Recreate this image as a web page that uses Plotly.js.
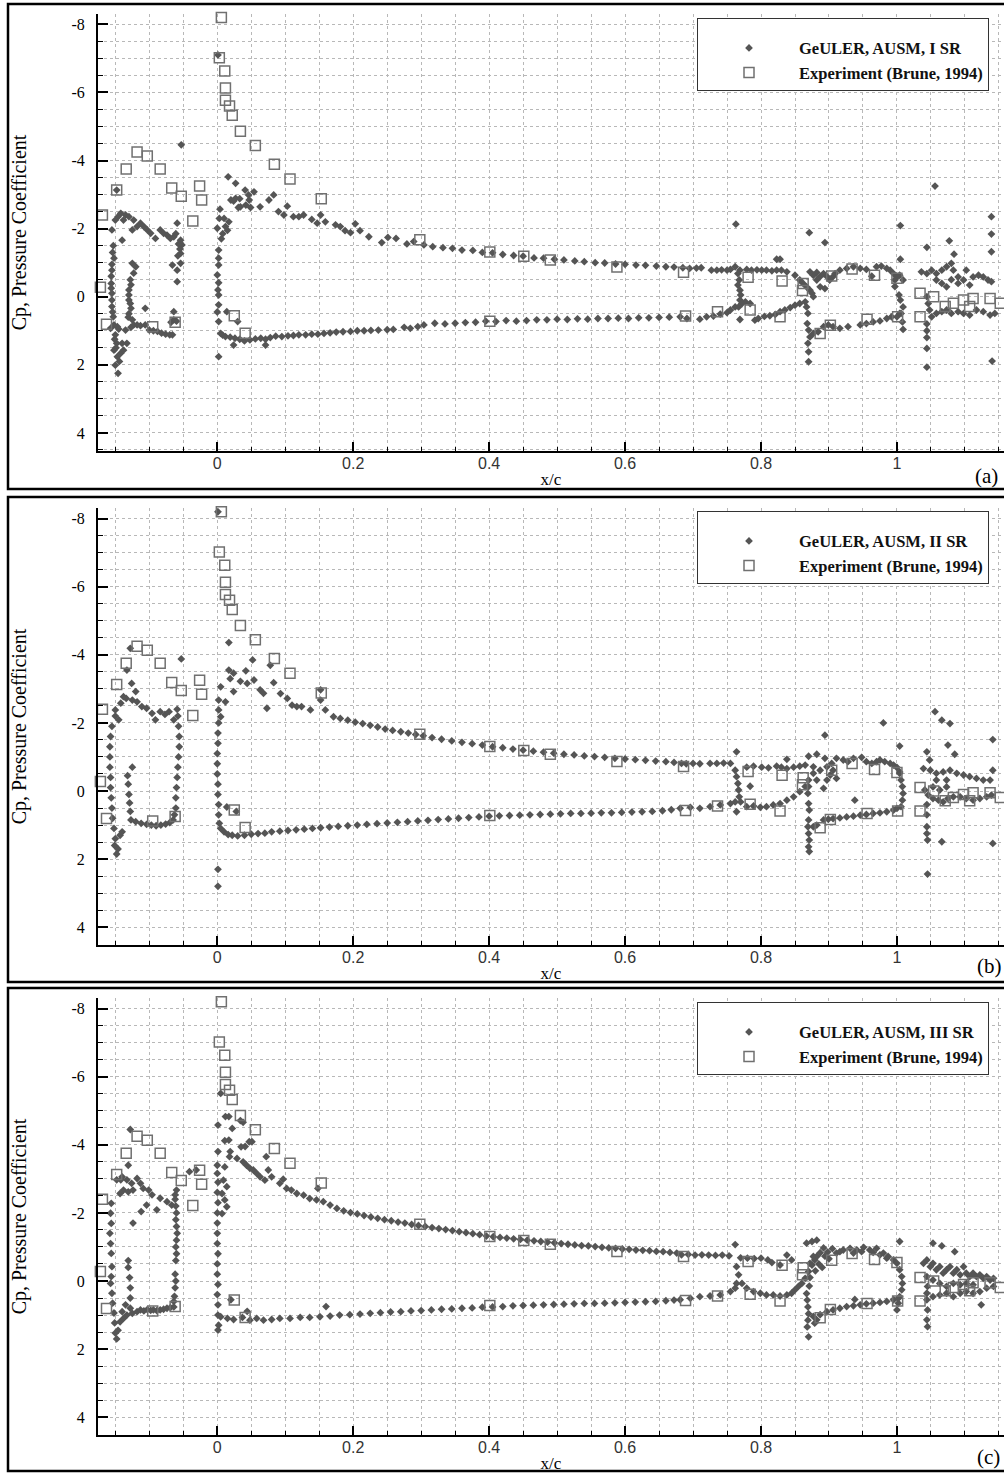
<!DOCTYPE html>
<html>
<head>
<meta charset="utf-8">
<script src="https://cdn.plot.ly/plotly-3.0.1.min.js"></script>
<style>
  html, body { margin: 0; padding: 0; background: #fff; }
  #chart { width: 1004px; height: 1474px; }
</style>
</head>
<body>
<div id="chart"></div>
<script>
// ---- Data: [x/c, Cp] pairs ----

// Wind-tunnel pressure taps (same in every panel)
const brune = [
  [-0.176,0.98],[-0.172,-0.28],[-0.169,-2.40],[-0.163,0.81],[-0.148,-3.13],[-0.134,-3.75],[-0.118,-4.25],
  [-0.103,-4.13],[-0.095,0.88],[-0.084,-3.75],[-0.067,-3.19],[-0.062,0.75],[-0.053,-2.95],[-0.036,-2.22],
  [-0.026,-3.25],[-0.023,-2.84],
  [0.006,-8.20],[0.003,-7.02],[0.011,-6.63],[0.012,-6.13],[0.012,-5.77],[0.018,-5.60],[0.022,-5.33],
  [0.034,-4.86],[0.056,-4.44],[0.084,-3.89],[0.107,-3.46],[0.153,-2.88],[0.298,-1.67],[0.401,-1.31],
  [0.451,-1.19],[0.490,-1.08],[0.588,-0.87],[0.686,-0.72],
  [0.025,0.56],[0.041,1.07],[0.401,0.72],[0.689,0.57],[0.736,0.44],
  [0.781,-0.57],[0.831,-0.46],[0.862,-0.39],[0.861,-0.18],[0.784,0.39],[0.828,0.59],
  [0.904,-0.61],[0.934,-0.81],[0.967,-0.63],[1.000,-0.54],[0.887,1.08],[0.902,0.84],[0.956,0.66],[1.001,0.59],
  [1.034,-0.10],[1.034,0.59],[1.054,0.00],[1.071,0.29],[1.083,0.19],[1.098,0.10],[1.107,0.29],
  [1.112,0.05],[1.137,0.05],[1.152,0.19]
];

// GeULER, AUSM, I SR
const geulerI = [
  // slat
  [-0.155,-1.96],[-0.150,-2.25],[-0.146,-2.35],[-0.142,-2.45],[-0.138,-2.25],[-0.135,-2.40],[-0.130,-2.35],
  [-0.125,-1.96],[-0.123,-2.25],[-0.118,-2.06],[-0.113,-2.16],[-0.108,-2.06],[-0.103,-1.96],[-0.098,-1.86],
  [-0.091,-1.71],[-0.084,-1.96],[-0.079,-1.86],[-0.074,-1.81],[-0.069,-1.71],[-0.064,-1.76],[-0.059,-2.16],
  [-0.054,-1.66],[-0.052,-1.52],[-0.140,-1.66],[-0.148,-3.13],[-0.053,-4.46],
  [-0.153,-1.50],[-0.154,-1.30],[-0.152,-1.13],[-0.155,-0.95],[-0.155,-0.78],[-0.156,-0.60],[-0.156,-0.39],
  [-0.156,-0.25],[-0.155,-0.10],[-0.155,0.10],[-0.155,0.29],[-0.154,0.45],[-0.153,0.59],[-0.152,0.83],
  [-0.157,0.93],[-0.147,0.88],[-0.145,0.95],[-0.150,1.12],[-0.151,1.25],[-0.148,1.37],[-0.149,1.50],
  [-0.152,1.57],[-0.147,1.76],[-0.144,1.90],[-0.150,2.01],[-0.146,2.25],[-0.142,1.66],[-0.138,1.57],
  [-0.140,1.37],[-0.133,1.37],[-0.135,0.98],
  [-0.125,-0.98],[-0.120,-0.88],[-0.123,-0.69],[-0.128,-0.50],[-0.127,-0.35],[-0.130,-0.20],[-0.130,-0.05],
  [-0.130,0.10],[-0.128,0.20],[-0.127,0.34],[-0.130,0.50],[-0.131,0.60],[-0.125,0.68],[-0.123,0.83],[-0.127,0.90],
  [-0.118,0.83],[-0.113,0.85],[-0.106,0.83],[-0.106,0.34],[-0.100,0.98],[-0.094,1.00],[-0.088,1.02],
  [-0.082,1.07],[-0.076,1.10],[-0.070,1.12],[-0.066,1.12],[-0.064,0.44],[-0.064,0.68],[-0.068,0.75],[-0.060,0.72],
  [-0.059,-0.44],[-0.059,-0.78],[-0.066,-0.93],[-0.054,-0.98],[-0.058,-1.20],[-0.054,-1.27],[-0.055,-1.40],
  [-0.057,-1.55],[-0.061,-1.85],
  // main element, leading edge
  [0.001,-7.10],[0.004,-2.57],[0.003,-2.30],[0.000,-2.01],[0.012,-2.06],[0.008,-1.85],[0.015,-1.95],
  [0.017,-2.20],[0.010,-2.30],[0.006,-1.70],[0.002,-1.37],[0.002,-1.13],[0.002,-0.93],[0.000,-0.64],
  [0.002,-0.41],[0.001,-0.20],[0.002,-0.05],[0.002,0.24],[0.000,0.45],[0.002,0.73],[0.014,0.44],
  [0.030,0.73],[0.002,1.76],
  // main element, upper surface
  [0.016,-3.52],[0.027,-3.33],[0.041,-3.13],[0.046,-2.99],[0.054,-3.08],[0.020,-2.84],[0.027,-2.89],
  [0.033,-2.88],[0.024,-2.81],[0.047,-2.84],[0.042,-2.69],[0.031,-2.62],[0.034,-2.64],[0.049,-2.62],
  [0.063,-2.64],[0.076,-2.84],[0.083,-2.99],[0.090,-2.50],[0.098,-2.40],[0.103,-2.66],[0.112,-2.35],
  [0.120,-2.35],[0.127,-2.40],[0.139,-2.27],[0.152,-2.40],[0.147,-2.16],[0.159,-2.20],[0.174,-2.11],
  [0.181,-2.06],[0.188,-1.94],[0.196,-1.88],[0.203,-2.14],[0.210,-1.94],[0.223,-1.76],[0.242,-1.59],
  [0.251,-1.74],[0.263,-1.71],[0.279,-1.55],[0.289,-1.62],[0.304,-1.52],[0.317,-1.47],
  [0.332,-1.44],[0.346,-1.42],[0.360,-1.37],[0.376,-1.36],[0.390,-1.30],[0.405,-1.29],[0.420,-1.24],
  [0.436,-1.21],[0.450,-1.19],[0.466,-1.14],[0.480,-1.13],[0.496,-1.10],[0.510,-1.08],[0.526,-1.05],
  [0.540,-1.03],[0.556,-1.00],[0.570,-0.99],[0.586,-0.96],[0.600,-0.95],[0.616,-0.93],[0.630,-0.92],
  [0.646,-0.90],[0.660,-0.88],[0.672,-0.87],
  // main element, lower surface
  [0.005,1.08],[0.008,1.13],[0.012,1.17],[0.019,1.19],[0.024,1.42],[0.026,1.22],[0.033,1.25],[0.040,1.30],
  [0.048,1.27],[0.056,1.24],[0.064,1.22],[0.071,1.42],[0.071,1.25],[0.078,1.20],[0.086,1.16],[0.095,1.17],
  [0.104,1.15],[0.112,1.14],[0.120,1.12],[0.130,1.12],[0.139,1.10],[0.148,1.10],[0.157,1.08],[0.166,1.06],
  [0.175,1.04],[0.185,1.03],[0.196,1.02],[0.206,1.00],[0.216,1.00],[0.226,0.99],[0.237,0.98],[0.250,0.97],
  [0.259,0.96],[0.275,0.90],[0.284,0.93],[0.295,0.88],[0.304,0.83],[0.320,0.78],[0.335,0.80],[0.350,0.78],
  [0.365,0.76],[0.380,0.75],[0.395,0.72],[0.410,0.73],[0.425,0.70],[0.440,0.72],[0.455,0.70],[0.470,0.68],
  [0.485,0.68],[0.500,0.66],[0.515,0.67],[0.530,0.65],[0.545,0.66],[0.560,0.64],[0.575,0.64],[0.590,0.63],
  [0.605,0.64],[0.620,0.62],[0.635,0.62],[0.650,0.61],[0.665,0.60],[0.681,0.59],[0.691,0.64],[0.710,0.66],
  [0.720,0.59],[0.730,0.57],[0.740,0.51],[0.750,0.47],[0.755,0.39],[0.762,0.30],[0.777,0.15],[0.784,0.20],
  [0.769,0.67],[0.791,0.69],[0.796,0.64],
  // trailing part of main element, upper
  [0.685,-0.85],[0.695,-0.83],[0.705,-0.84],[0.712,-0.85],[0.727,-0.78],[0.735,-0.78],[0.742,-0.79],
  [0.750,-0.78],[0.755,-0.80],[0.762,-0.88],[0.769,-0.78],[0.779,-0.80],[0.786,-0.78],[0.794,-0.79],
  [0.801,-0.78],[0.808,-0.78],[0.816,-0.76],[0.823,-0.78],[0.830,-0.78],[0.838,-0.73],[0.850,-0.63],
  [0.823,-1.10],[0.828,-1.10],[0.763,-2.13],
  // first flap element
  [0.766,-0.68],[0.768,-0.49],[0.766,-0.34],[0.769,-0.19],[0.770,-0.05],[0.769,0.10],[0.772,0.20],[0.767,0.30],
  [0.805,0.58],[0.813,0.56],[0.821,0.52],[0.828,0.44],[0.835,0.39],[0.843,0.32],[0.850,0.25],[0.857,0.20],[0.865,0.15],
  [0.867,0.30],[0.869,0.49],[0.868,0.79],[0.870,0.98],[0.872,1.18],[0.869,1.37],[0.870,1.62],[0.870,1.91],
  [0.871,-1.88],[0.894,-1.59],
  [0.857,-0.49],[0.862,-0.39],[0.867,-0.29],[0.872,-0.19],[0.875,-0.10],[0.877,0.00],[0.882,-0.49],
  [0.887,-0.59],[0.892,-0.68],[0.897,-0.59],[0.887,-0.29],[0.894,-0.24],[0.877,-0.63],[0.872,-0.73],
  [0.882,-0.71],[0.901,-0.49],[0.906,-0.59],[0.909,-0.68],
  // second flap element
  [0.916,-0.78],[0.926,-0.83],[0.936,-0.88],[0.946,-0.83],[0.955,-0.80],[0.963,-0.60],[0.970,-0.88],
  [0.977,-0.90],[0.985,-0.83],[0.990,-0.78],[0.995,-0.68],[1.000,-0.58],[1.004,-0.63],[1.009,-0.49],
  [0.997,-0.49],[1.005,-2.09],[1.005,-1.10],
  [0.877,1.08],[0.884,1.03],[0.892,0.88],[0.899,0.83],[0.906,0.88],[0.916,0.93],[0.928,0.88],[0.946,0.83],
  [0.955,0.79],[0.965,0.74],[0.975,0.71],[0.985,0.64],[0.992,0.59],[1.000,0.59],[1.004,0.49],
  [1.003,-0.05],[1.005,0.10],[1.009,0.30],[1.006,0.49],[1.008,0.74],[1.009,0.96],[0.997,-0.30],
  // wake / aft element
  [1.036,-0.73],[1.044,-0.68],[1.051,-0.78],[1.058,-0.68],[1.066,-0.78],[1.073,-0.88],[1.080,-0.98],
  [1.083,-0.78],[1.090,-0.58],[1.098,-0.49],[1.102,-0.78],[1.107,-0.34],[1.112,-0.58],[1.120,-0.63],
  [1.127,-0.58],[1.134,-0.49],[1.139,-0.44],[1.066,-0.39],[1.073,-0.29],[1.058,-0.49],[1.090,-0.39],[1.080,-0.50],
  [1.044,0.00],[1.046,0.20],[1.048,0.39],[1.051,0.59],[1.058,0.49],[1.066,0.44],[1.073,0.39],[1.080,0.49],
  [1.090,0.44],[1.098,0.49],[1.107,0.54],[1.117,0.39],[1.127,0.44],[1.137,0.54],[1.144,0.49],
  [1.044,0.80],[1.044,1.00],[1.044,1.20],
  [1.056,-3.25],[1.139,-2.35],[1.139,-1.84],[1.139,-1.32],[1.077,-1.64],[1.044,-1.45],[1.084,-1.25],
  [1.140,1.89],[1.044,2.07],[1.044,1.52]
];

// GeULER, AUSM, II SR
const geulerII = [
  // slat
  [-0.128,-4.19],[-0.133,-3.55],[-0.126,-3.16],[-0.120,-2.92],[-0.053,-3.88],[-0.150,-2.38],[-0.142,-2.58],
  [-0.138,-2.77],[-0.134,-2.72],[-0.125,-2.67],[-0.118,-2.62],[-0.111,-2.48],[-0.104,-2.43],[-0.096,-2.28],
  [-0.091,-2.09],[-0.084,-2.33],[-0.077,-2.25],[-0.071,-2.33],[-0.064,-2.09],[-0.059,-2.40],[-0.145,-2.09],[-0.150,-2.20],
  [-0.155,-1.90],[-0.157,-1.60],[-0.158,-1.30],[-0.158,-1.00],[-0.158,-0.70],[-0.157,-0.40],[-0.157,-0.10],
  [-0.156,0.20],[-0.155,0.50],[-0.154,0.80],[-0.152,1.10],[-0.150,1.40],[-0.151,1.60],[-0.148,1.85],
  [-0.146,1.70],[-0.143,1.30],[-0.140,1.20],
  [-0.125,-0.70],[-0.132,-0.45],[-0.131,-0.20],[-0.130,0.10],[-0.129,0.35],[-0.128,0.60],[-0.127,0.85],
  [-0.120,0.90],[-0.112,0.95],[-0.104,0.98],[-0.097,1.00],[-0.090,1.02],[-0.083,1.00],[-0.076,0.97],
  [-0.070,0.93],[-0.065,0.85],
  [-0.058,-2.20],[-0.057,-1.90],[-0.056,-1.60],[-0.056,-1.30],[-0.057,-1.00],[-0.058,-0.70],[-0.059,-0.40],
  [-0.060,-0.10],[-0.061,0.20],[-0.061,0.50],[-0.063,0.70],
  // main element, leading edge
  [0.001,-8.20],[0.017,-4.36],[0.017,-3.55],[0.024,-3.46],[0.052,-3.85],[0.042,-3.53],[0.078,-3.69],
  [0.083,-3.18],[0.019,-3.30],[0.005,-3.06],[0.002,-2.67],[0.012,-2.62],[0.024,-2.92],[0.073,-2.43],
  [0.034,-3.22],[0.044,-3.16],[0.054,-3.26],[0.063,-2.97],[0.068,-2.87],[0.093,-2.86],[0.103,-2.72],
  [0.110,-2.52],[0.117,-2.48],[0.124,-2.48],[0.137,-2.38],[0.152,-2.97],[0.152,-2.67],[0.159,-2.38],
  [0.171,-2.18],[0.181,-2.13],[0.002,-2.38],[0.005,-2.18],
  [0.002,-2.00],[0.001,-1.70],[0.001,-1.40],[0.000,-1.10],[0.000,-0.80],[0.000,-0.50],[0.001,-0.20],
  [0.001,0.10],[0.002,0.40],[0.002,0.70],[0.003,0.95],[0.001,2.30],[0.001,2.80],[0.014,0.47],[0.028,0.60],
  // main element, upper surface
  [0.192,-2.08],[0.203,-2.02],[0.214,-1.98],[0.225,-1.93],[0.236,-1.88],[0.247,-1.82],[0.258,-1.78],
  [0.270,-1.74],[0.281,-1.70],[0.292,-1.66],[0.303,-1.62],[0.316,-1.57],[0.330,-1.52],[0.345,-1.47],
  [0.360,-1.43],[0.375,-1.39],[0.390,-1.35],[0.405,-1.30],[0.420,-1.27],[0.435,-1.23],[0.450,-1.20],
  [0.465,-1.17],[0.480,-1.14],[0.495,-1.11],[0.510,-1.08],[0.525,-1.06],[0.540,-1.03],[0.555,-1.01],
  [0.570,-0.99],[0.585,-0.96],[0.600,-0.94],[0.615,-0.92],[0.630,-0.90],[0.645,-0.88],[0.660,-0.86],[0.672,-0.84],
  // main element, lower surface
  [0.005,1.10],[0.010,1.20],[0.016,1.28],[0.022,1.30],[0.030,1.32],[0.040,1.30],[0.050,1.27],[0.060,1.25],
  [0.070,1.24],[0.080,1.20],[0.092,1.18],[0.104,1.16],[0.116,1.14],[0.128,1.12],[0.140,1.10],[0.152,1.08],
  [0.165,1.06],[0.178,1.04],[0.192,1.02],[0.206,1.00],[0.220,0.98],[0.235,0.96],[0.250,0.94],[0.265,0.92],
  [0.280,0.90],[0.295,0.88],[0.310,0.86],[0.325,0.84],[0.340,0.82],[0.355,0.80],[0.370,0.78],[0.385,0.76],
  [0.400,0.74],[0.415,0.73],[0.430,0.72],[0.445,0.71],[0.460,0.70],[0.475,0.69],[0.490,0.68],[0.505,0.67],
  [0.520,0.66],[0.535,0.66],[0.550,0.65],[0.565,0.64],[0.580,0.64],[0.595,0.63],[0.610,0.62],[0.625,0.61],
  [0.640,0.60],[0.655,0.58],[0.668,0.55],
  // trailing part of main element
  [0.683,-0.81],[0.690,-0.80],[0.700,-0.81],[0.710,-0.80],[0.725,-0.81],[0.735,-0.81],[0.745,-0.82],[0.755,-0.81],
  [0.764,-1.15],
  [0.681,0.51],[0.696,0.48],[0.710,0.51],[0.725,0.46],[0.740,0.41],[0.755,0.37],[0.762,0.32],[0.764,0.61],
  // first flap element (closed loop)
  [0.779,-0.70],[0.789,-0.73],[0.801,-0.70],[0.811,-0.68],[0.823,-0.73],[0.830,-0.70],[0.838,-0.66],
  [0.838,-0.93],[0.848,-0.70],[0.857,-0.73],[0.865,-0.76],
  [0.762,-0.61],[0.764,-0.42],[0.766,-0.22],[0.767,-0.03],[0.768,0.17],[0.770,0.32],
  [0.779,0.46],[0.789,0.44],[0.799,0.48],[0.808,0.46],[0.818,0.41],[0.828,0.37],[0.838,0.27],[0.848,0.17],
  [0.857,0.02],[0.865,-0.13],[0.784,-0.14],
  [0.870,-0.32],[0.870,-0.13],[0.869,0.07],[0.870,0.37],[0.871,0.56],[0.870,0.85],[0.869,1.05],[0.870,1.25],
  [0.871,1.44],[0.870,1.64],[0.871,1.78],
  [0.870,-1.02],[0.882,-1.08],[0.894,-1.64],[0.894,-0.96],[0.877,-0.71],[0.887,-0.61],[0.897,-0.71],
  [0.904,-0.81],[0.911,-0.96],[0.902,-0.47],[0.892,-0.08],[0.897,-0.32],[0.911,-0.37],[0.906,-0.61],
  [0.882,-0.32],[0.877,-0.52],
  // second flap element (closed loop)
  [0.921,-0.91],[0.928,-0.86],[0.936,-0.96],[0.948,-0.99],[0.955,-0.86],[0.963,-0.81],[0.970,-0.86],
  [0.975,-0.91],[0.982,-0.86],[0.990,-0.81],[0.995,-0.76],[1.000,-0.69],[1.004,-0.56],
  [1.004,-0.52],[1.006,-0.32],[1.008,-0.13],[1.009,0.07],[1.008,0.27],[1.006,0.46],
  [0.877,1.05],[0.882,1.00],[0.892,0.85],[0.899,0.83],[0.906,0.81],[0.916,0.79],[0.926,0.76],[0.936,0.74],
  [0.946,0.71],[0.955,0.69],[0.965,0.66],[0.975,0.64],[0.985,0.61],[0.995,0.56],[1.000,0.51],[0.938,0.27],
  [0.980,-2.00],[1.004,-1.32],
  // wake / aft element
  [1.056,-2.33],[1.066,-2.08],[1.078,-1.98],[1.075,-1.35],[1.085,-1.08],[1.044,-1.15],[1.048,-0.91],
  [1.141,-1.51],[1.141,-0.61],[1.141,1.54],[1.066,1.49],[1.045,2.44],[1.044,1.05],[1.044,1.25],[1.045,1.44],
  [1.039,-0.66],[1.049,-0.61],[1.058,-0.52],[1.068,-0.56],[1.078,-0.61],[1.088,-0.52],[1.098,-0.47],
  [1.107,-0.42],[1.117,-0.37],[1.127,-0.32],[1.137,-0.32],
  [1.041,-0.03],[1.046,0.12],[1.053,0.22],[1.061,0.27],[1.068,0.32],[1.075,0.22],[1.083,0.17],[1.093,0.17],
  [1.102,0.22],[1.112,0.27],[1.122,0.22],[1.132,0.17],[1.139,0.12],
  [1.053,-0.12],[1.063,-0.03],[1.073,-0.12],[1.058,-0.32],[1.073,-0.32],[1.044,0.40],[1.044,0.70]
];

// GeULER, AUSM, III SR
const geulerIII = [
  // slat
  [-0.128,-4.45],[-0.131,-3.40],[-0.148,-2.97],[-0.142,-2.97],[-0.140,-3.06],[-0.133,-2.97],[-0.126,-2.87],
  [-0.118,-3.01],[-0.113,-2.87],[-0.109,-2.72],[-0.138,-2.67],[-0.143,-2.57],[-0.131,-2.62],[-0.124,-2.67],
  [-0.101,-2.67],[-0.096,-2.53],[-0.084,-2.43],[-0.074,-2.33],[-0.067,-2.23],[-0.062,-2.53],[-0.060,-2.67],
  [-0.104,-2.23],[-0.112,-2.04],[-0.089,-2.09],[-0.124,-1.70],[-0.041,-3.21],[-0.031,-3.26],
  [-0.156,-2.28],[-0.157,-1.99],[-0.156,-1.69],[-0.158,-1.40],[-0.157,-1.10],[-0.156,-0.81],[-0.155,-0.42],
  [-0.156,-0.13],[-0.157,0.07],[-0.155,0.36],[-0.154,0.65],[-0.152,0.94],[-0.151,1.23],[-0.150,1.53],
  [-0.148,1.70],[-0.146,1.45],[-0.143,1.20],
  [-0.062,-2.40],[-0.061,-2.20],[-0.060,-2.00],[-0.061,-1.80],[-0.060,-1.60],[-0.059,-1.40],[-0.060,-1.20],
  [-0.061,-1.00],[-0.060,-0.80],[-0.061,-0.60],[-0.062,-0.20],[-0.061,0.00],[-0.062,0.20],[-0.063,0.45],
  [-0.064,0.60],
  [-0.131,-0.60],[-0.131,-0.40],[-0.129,-0.10],[-0.128,0.20],[-0.128,0.50],[-0.128,0.80],[-0.135,0.70],
  [-0.140,0.90],[-0.133,1.00],[-0.125,0.95],[-0.138,1.10],
  [-0.118,0.90],[-0.113,0.85],[-0.108,0.88],[-0.103,0.84],[-0.098,0.86],[-0.094,0.85],[-0.089,0.87],
  [-0.084,0.85],[-0.079,0.83],[-0.074,0.80],[-0.069,0.78],[-0.064,0.76],
  // main element, leading edge
  [0.005,-5.51],[0.001,-4.58],[0.017,-4.83],[0.022,-4.48],[0.038,-4.66],[0.051,-4.09],[0.041,-3.95],
  [0.017,-4.14],[0.001,-3.80],[0.012,-4.83],[0.011,-4.12],[0.035,-3.94],[0.047,-4.09],[0.034,-4.71],
  [0.072,-3.65],[0.075,-3.26],[0.097,-2.99],[0.148,-2.72],[0.018,-3.65],
  [0.019,-3.80],[0.029,-3.60],[0.038,-3.50],[0.043,-3.40],[0.048,-3.31],[0.053,-3.26],[0.058,-3.16],
  [0.063,-3.06],[0.070,-2.96],[0.080,-3.06],[0.092,-2.87],[0.102,-2.72],[0.109,-2.67],[0.117,-2.57],
  [0.127,-2.52],[0.136,-2.42],[0.146,-2.38],[0.156,-2.33],[0.166,-2.23],[0.176,-2.13],
  [0.011,-3.35],[0.009,-2.96],[0.014,-2.77],[0.007,-2.57],[0.011,-2.38],[0.014,-2.18],[0.007,-1.98],
  [0.000,-3.40],[0.000,-3.16],[0.001,-2.90],[0.000,-2.60],[0.001,-2.30],[0.000,-2.00],[0.000,-1.70],
  [0.000,-1.40],[0.000,-1.10],[0.001,-0.80],[0.000,-0.50],[0.000,-0.20],[0.001,0.10],[0.000,0.40],
  [0.001,0.70],[0.001,1.00],[0.002,1.30],[0.001,1.44],[0.020,0.55],[0.044,0.89],
  // main element, upper surface
  [0.186,-2.06],[0.196,-2.01],[0.206,-1.97],[0.216,-1.92],[0.226,-1.88],[0.236,-1.84],[0.246,-1.80],
  [0.256,-1.77],[0.266,-1.73],[0.276,-1.70],[0.286,-1.66],[0.296,-1.63],[0.306,-1.60],[0.316,-1.57],
  [0.326,-1.54],[0.336,-1.51],[0.346,-1.48],[0.356,-1.45],[0.366,-1.42],[0.376,-1.39],[0.386,-1.36],
  [0.396,-1.32],[0.406,-1.30],[0.416,-1.28],[0.426,-1.26],[0.436,-1.24],[0.446,-1.22],[0.456,-1.20],
  [0.466,-1.18],[0.476,-1.16],[0.486,-1.14],[0.496,-1.12],[0.506,-1.10],[0.516,-1.08],[0.526,-1.06],
  [0.536,-1.04],[0.546,-1.03],[0.556,-1.01],[0.566,-0.99],[0.576,-0.97],[0.586,-0.96],[0.596,-0.94],
  [0.606,-0.93],[0.616,-0.91],[0.626,-0.90],[0.636,-0.89],[0.646,-0.87],[0.656,-0.86],[0.666,-0.84],[0.676,-0.82],
  // main element, lower surface
  [0.005,1.05],[0.015,1.10],[0.024,1.13],[0.037,1.07],[0.048,1.15],[0.058,1.10],[0.068,1.15],[0.080,1.13],
  [0.092,1.10],[0.107,1.10],[0.122,1.07],[0.136,1.07],[0.151,1.05],[0.166,1.03],[0.180,1.00],[0.160,0.75],
  [0.195,0.99],[0.210,0.97],[0.225,0.95],[0.240,0.93],[0.255,0.91],[0.270,0.90],[0.285,0.88],[0.300,0.87],
  [0.315,0.85],[0.330,0.83],[0.345,0.82],[0.360,0.80],[0.375,0.79],[0.390,0.77],[0.405,0.76],[0.420,0.75],
  [0.435,0.73],[0.450,0.72],[0.465,0.71],[0.480,0.70],[0.495,0.69],[0.510,0.68],[0.525,0.67],[0.540,0.66],
  [0.555,0.66],[0.570,0.65],[0.585,0.64],[0.600,0.63],[0.615,0.62],[0.630,0.61],[0.645,0.60],[0.660,0.58],
  [0.672,0.56],
  // trailing part of main element
  [0.683,-0.77],[0.693,-0.78],[0.703,-0.76],[0.713,-0.77],[0.723,-0.76],[0.733,-0.75],[0.743,-0.76],
  [0.753,-0.74],[0.762,-1.07],[0.770,-0.68],[0.780,-0.67],[0.790,-0.66],[0.800,-0.67],[0.810,-0.62],
  [0.816,-0.54],[0.828,-0.47],[0.838,-0.76],[0.845,-0.62],
  [0.681,0.55],[0.696,0.51],[0.710,0.46],[0.725,0.44],[0.740,0.41],[0.755,0.31],[0.762,0.21],[0.764,0.07],
  // first flap element
  [0.764,-0.42],[0.767,-0.18],[0.772,0.07],[0.779,0.21],[0.789,0.31],[0.799,0.36],[0.808,0.41],[0.818,0.41],
  [0.828,0.44],[0.838,0.41],[0.845,0.36],[0.850,0.26],[0.855,0.16],[0.860,0.07],[0.865,-0.08],[0.870,-0.28],
  [0.875,-0.47],[0.879,-0.62],[0.882,-0.72],
  [0.867,-1.11],[0.875,-1.16],[0.882,-1.20],[0.892,-0.97],[0.887,-0.83],[0.894,-0.73],[0.877,-0.72],
  [0.872,-0.52],[0.898,-0.85],[0.905,-0.95],[0.900,-0.65],[0.885,-0.50],[0.890,-0.40],[0.880,-0.30],
  [0.867,0.37],[0.868,0.56],[0.869,0.76],[0.870,0.96],[0.869,1.15],[0.868,1.35],[0.870,1.64],[0.872,-0.10],[0.871,0.15],
  // second flap element
  [0.911,-0.82],[0.916,-0.86],[0.921,-0.91],[0.931,-0.96],[0.941,-0.91],[0.951,-0.99],[0.960,-0.91],
  [0.970,-0.96],[0.980,-0.82],[0.987,-0.72],[0.995,-0.62],[1.000,-0.52],[1.004,-0.33],[1.007,-0.13],
  [1.008,0.07],[1.007,0.26],[1.004,0.46],[1.002,0.65],[1.000,0.85],[1.004,-1.16],
  [0.936,-0.82],[0.948,-0.86],[0.965,-0.84],[0.975,-0.77],[0.985,-0.67],
  [0.877,1.04],[0.887,0.99],[0.897,0.90],[0.906,0.85],[0.916,0.80],[0.926,0.75],[0.936,0.73],[0.946,0.70],
  [0.955,0.67],[0.965,0.65],[0.975,0.63],[0.985,0.60],[0.995,0.55],[1.002,0.51],[0.938,0.54],[0.882,1.14],[0.879,1.24],
  // wake / aft element
  [1.039,-0.52],[1.044,-0.62],[1.049,-0.42],[1.053,-0.52],[1.058,-0.33],[1.063,-0.42],[1.068,-0.23],
  [1.073,-0.33],[1.078,-0.42],[1.083,-0.23],[1.088,-0.33],[1.093,-0.18],[1.098,-0.42],[1.102,-0.23],
  [1.107,-0.13],[1.112,-0.23],[1.117,-0.13],[1.122,-0.18],[1.127,-0.08],[1.132,-0.13],[1.137,-0.03],[1.142,-0.08],
  [1.044,0.36],[1.053,0.46],[1.063,0.41],[1.073,0.36],[1.083,0.46],[1.093,0.36],[1.102,0.31],[1.112,0.36],
  [1.122,0.31],[1.132,0.21],[1.142,0.16],
  [1.053,-0.03],[1.063,0.07],[1.073,0.16],[1.083,0.07],[1.093,0.11],[1.102,0.07],[1.112,0.11],
  [1.044,-0.13],[1.045,0.16],[1.044,0.55],[1.045,0.85],[1.044,1.14],[1.045,1.34],
  [1.053,-1.11],[1.066,-1.03],[1.085,-0.86],[1.124,0.70]
];

const seriesNames = ['GeULER, AUSM, I SR', 'GeULER, AUSM, II SR', 'GeULER, AUSM, III SR'];
const experimentName = 'Experiment (Brune, 1994)';
const panelTags = ['(a)', '(b)', '(c)'];
const xTickVals = [0, 0.2, 0.4, 0.6, 0.8, 1];
const xTickText = ['0', '0.2', '0.4', '0.6', '0.8', '1'];
const yTickVals = [-8, -6, -4, -2, 0, 2, 4];
const yTickText = ['-8', '-6', '-4', '-2', '0', '2', '4'];

// ---- Page geometry (pixels) ----
const W = 1004, H = 1474;
const PX_PER_CP = 34.05;
const plotLeft = 98;
const xRange = [-0.1755, 1.1575];
const panels = [
  { top: 14,  bottom: 451,  zero: 296.7, boxTop: 4,   boxBottom: 489,  legendTop: 18,   tagX: 973, tagY: 476 },
  { top: 508, bottom: 945,  zero: 791,   boxTop: 497, boxBottom: 982,  legendTop: 511,  tagX: 975, tagY: 966 },
  { top: 998, bottom: 1435, zero: 1281,  boxTop: 988, boxBottom: 1471, legendTop: 1002, tagX: 975, tagY: 1457 }
];
const fx = p => p / W;
const fy = p => 1 - p / H;

const serif = 'Liberation Serif, Times New Roman, serif';
const sans = 'Liberation Sans, Arial, sans-serif';
const gridColor = '#b8b8b8';
const diamondColor = '#555555';
const squareColor = '#707070';

const seriesData = [geulerI, geulerII, geulerIII];
const traces = [];
const layout = {
  width: W, height: H,
  margin: { l: 0, r: 0, t: 0, b: 0 },
  paper_bgcolor: '#fff',
  plot_bgcolor: '#fff',
  showlegend: true,
  shapes: [],
  annotations: []
};

panels.forEach((p, i) => {
  const n = i === 0 ? '' : String(i + 1);
  const legendKey = 'legend' + n;

  traces.push({
    type: 'scatter', mode: 'markers',
    name: seriesNames[i],
    x: seriesData[i].map(d => d[0]),
    y: seriesData[i].map(d => d[1]),
    xaxis: 'x' + n, yaxis: 'y' + n,
    legend: legendKey,
    marker: { symbol: 'diamond', size: 6, color: diamondColor, line: { width: 0 } },
    cliponaxis: true,
    hoverinfo: 'skip'
  });
  traces.push({
    type: 'scatter', mode: 'markers',
    name: experimentName,
    x: brune.map(d => d[0]),
    y: brune.map(d => d[1]),
    xaxis: 'x' + n, yaxis: 'y' + n,
    legend: legendKey,
    marker: { symbol: 'square-open', size: 10, color: squareColor, line: { width: 1.5, color: squareColor } },
    cliponaxis: false,
    hoverinfo: 'skip'
  });

  layout['xaxis' + n] = {
    domain: [fx(plotLeft), 1],
    range: xRange,
    anchor: 'y' + n,
    showline: true, linecolor: '#000', linewidth: 2,
    mirror: false, zeroline: false,
    ticks: 'inside', ticklen: 9, tickwidth: 2, tickcolor: '#000',
    tickmode: 'array', tickvals: xTickVals, ticktext: xTickText,
    tickfont: { family: sans, size: 16, color: '#333' },
    ticklabelstandoff: -3,
    showgrid: true, gridcolor: gridColor, griddash: 'dot', gridwidth: 1,
    minor: { dtick: 0.05, tick0: 0, showgrid: true, gridcolor: gridColor, griddash: 'dot', gridwidth: 1,
             ticks: 'inside', ticklen: 4, tickwidth: 1, tickcolor: '#000' },
    title: { text: 'x/c', font: { family: serif, size: 17, color: '#000' }, standoff: 2 }
  };
  layout['yaxis' + n] = {
    domain: [fy(p.bottom), fy(p.top)],
    range: [(p.bottom - p.zero) / PX_PER_CP, (p.top - p.zero) / PX_PER_CP],
    anchor: 'x' + n,
    showline: true, linecolor: '#000', linewidth: 2,
    mirror: false, zeroline: false,
    ticks: 'inside', ticklen: 10, tickwidth: 2, tickcolor: '#000',
    tickmode: 'array', tickvals: yTickVals, ticktext: yTickText,
    tickfont: { family: serif, size: 16, color: '#000' },
    ticklabelstandoff: 8,
    showgrid: true, gridcolor: gridColor, griddash: 'dot', gridwidth: 1,
    minor: { dtick: 0.5, tick0: 0, showgrid: true, gridcolor: gridColor, griddash: 'dot', gridwidth: 1,
             ticks: 'inside', ticklen: 5, tickwidth: 1, tickcolor: '#000' },
    title: { text: 'Cp, Pressure Coefficient', font: { family: serif, size: 20, color: '#000' }, standoff: 39 }
  };

  layout[legendKey] = {
    x: fx(697), y: fy(p.legendTop), xanchor: 'left', yanchor: 'top',
    bgcolor: '#fff', bordercolor: '#333', borderwidth: 1,
    font: { family: serif, size: 16.5, color: '#111', weight: 'bold' },
    itemwidth: 90, indentation: 1, tracegroupgap: 0,
    title: { text: ' ', font: { family: serif, size: 9 } }
  };

  // panel frame
  layout.shapes.push({
    type: 'rect', xref: 'paper', yref: 'paper',
    x0: fx(8), x1: 1.05, y0: fy(p.boxBottom), y1: fy(p.boxTop),
    line: { color: '#000', width: 2.5 }, fillcolor: 'rgba(0,0,0,0)', layer: 'above'
  });

  layout.annotations.push({
    xref: 'paper', yref: 'paper', x: fx(p.tagX), y: fy(p.tagY),
    xanchor: 'left', yanchor: 'middle', showarrow: false,
    text: panelTags[i], font: { family: serif, size: 21, color: '#000' }
  });
});

Plotly.newPlot('chart', traces, layout, { staticPlot: true, displayModeBar: false });
</script>
</body>
</html>
